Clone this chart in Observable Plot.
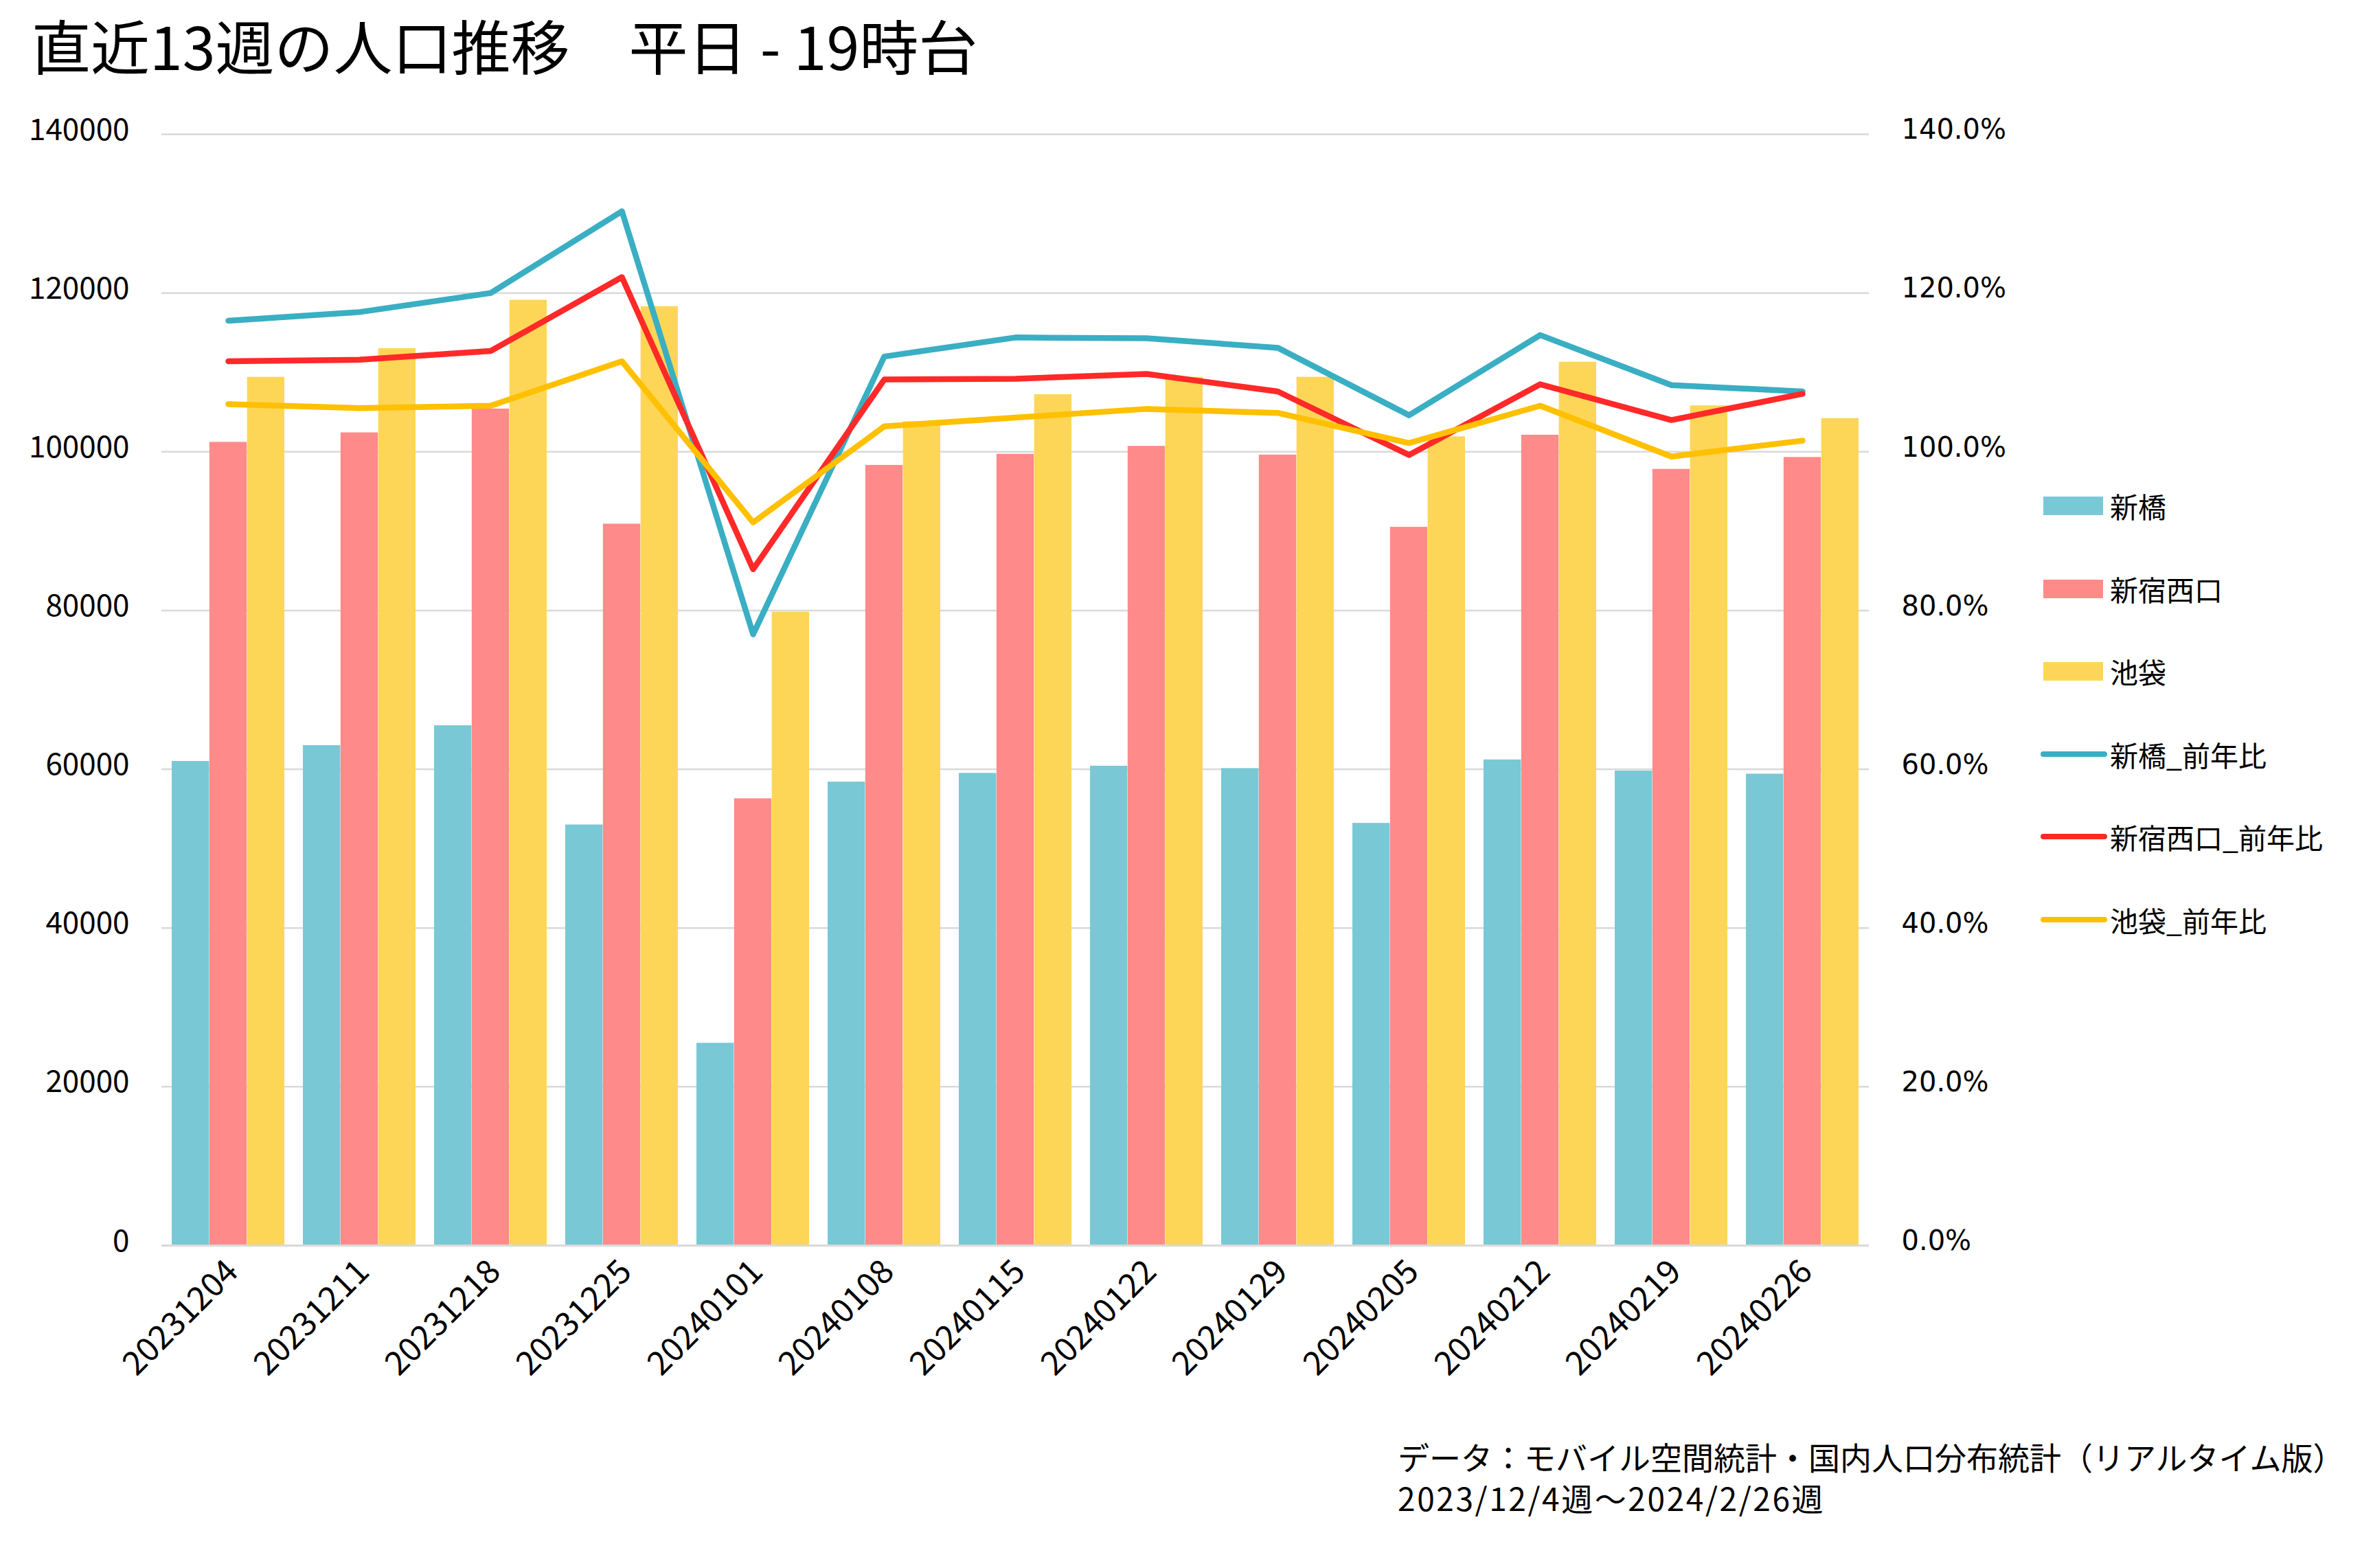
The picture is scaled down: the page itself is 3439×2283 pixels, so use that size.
<!DOCTYPE html>
<html><head><meta charset="utf-8">
<script src="https://cdn.jsdelivr.net/npm/d3@7"></script>
<script src="https://cdn.jsdelivr.net/npm/@observablehq/plot@0.6"></script>
<style>
html,body{margin:0;padding:0;background:#fff;}
#page{position:relative;width:3439px;height:2283px;overflow:hidden;font-family:"Noto Sans CJK JP",sans-serif;color:#000;background:#fff;}
#title{position:absolute;left:46px;top:13px;font-size:86px;line-height:1.2;white-space:pre;}
#chart{position:absolute;left:0;top:120px;}
.leg{position:absolute;left:2971px;height:60px;display:flex;align-items:center;font-size:41px;white-space:pre;}
.sw-bar{position:absolute;left:4px;width:87px;height:27px;}
.sw-line{position:absolute;left:0;width:97px;height:8px;border-radius:4px;}
.leg span.t{position:absolute;left:101px;}
.cap{position:absolute;left:2035px;font-size:46px;line-height:60px;white-space:pre;}
</style>
</head>
<body>
<div id="page">
  <div id="title"></div>
  <div id="chart"></div>
  <div id="legend"></div>
  <div id="cap1" class="cap" style="top:2090px"></div>
  <div id="cap2" class="cap" style="top:2150px;letter-spacing:2.6px"></div>
</div>
<script>
const titleText = "直近13週の人口推移　平日 - 19時台";
const captionLines = ["データ：モバイル空間統計・国内人口分布統計（リアルタイム版）", "2023/12/4週～2024/2/26週"];

const weeks = ["20231204","20231211","20231218","20231225","20240101","20240108","20240115","20240122","20240129","20240205","20240212","20240219","20240226"];
const shinbashi = [61000,63000,65500,53000,25500,58400,59500,60400,60100,53200,61200,59800,59400];
const shinjukuNishiguchi = [101200,102400,105400,90900,56300,98300,99700,100700,99600,90500,102100,97800,99300];
const ikebukuro = [109400,113000,119100,118300,79800,103800,107200,109400,109400,101900,111300,105800,104200];
const shinbashiYoY = [116.5,117.6,120.0,130.3,77.0,112.0,114.4,114.3,113.1,104.6,114.7,108.4,107.6];
const shinjukuNishiguchiYoY = [111.4,111.6,112.7,122.0,85.2,109.1,109.2,109.8,107.6,99.6,108.5,104.0,107.3];
const ikebukuroYoY = [106.0,105.5,105.8,111.4,91.1,103.2,104.3,105.4,104.9,101.1,105.8,99.4,101.4];

const barNames = ["新橋","新宿西口","池袋"];
const lineNames = ["新橋_前年比","新宿西口_前年比","池袋_前年比"];
const barColors = ["#79C8D6","#FF8A8A","#FED657"];
const lineColors = ["#3AAEC3","#FF2929","#FFC000"];
const leftTicks = [0,20000,40000,60000,80000,100000,120000,140000];
const rightTickLabels = ["0.0%","20.0%","40.0%","60.0%","80.0%","100.0%","120.0%","140.0%"];

const barSeries = [shinbashi, shinjukuNishiguchi, ikebukuro];
const lineSeries = [shinbashiYoY, shinjukuNishiguchiYoY, ikebukuroYoY];

const rows = weeks.map((w, i) => ({week: w, b0: barSeries[0][i], b1: barSeries[1][i], b2: barSeries[2][i], l0: lineSeries[0][i], l1: lineSeries[1][i], l2: lineSeries[2][i]}));

document.getElementById("title").textContent = titleText;
document.getElementById("cap1").textContent = captionLines[0];
document.getElementById("cap2").textContent = captionLines[1];

const W = 3439, H = 1920, mL = 235, mR = 718, mT = 75, mB = 227;
const padIn = 0.14, padOut = 0.07;
const step = (W - mL - mR) / (weeks.length - padIn + 2 * padOut);
const bw = step * (1 - padIn) / 3;

const fontJP = "Noto Sans CJK JP";

const chart = Plot.plot({
  width: W, height: H,
  marginLeft: mL, marginRight: mR, marginTop: mT, marginBottom: mB,
  style: {fontFamily: fontJP, color: "#000", background: "#fff", overflow: "visible"},
  x: {type: "band", domain: weeks, paddingInner: padIn, paddingOuter: padOut, align: 0.5},
  y: {domain: [0, 140000]},
  marks: [
    Plot.gridY(leftTicks, {stroke: "#d9d9d9", strokeOpacity: 1, strokeWidth: 2.5}),
    ...[0, 1, 2].map(j => Plot.barY(rows, {x: "week", y: "b" + j, fill: barColors[j], insetLeft: j * bw, insetRight: (2 - j) * bw})),
    Plot.ruleY([0], {stroke: "#d9d9d9", strokeWidth: 3}),
    ...[0, 1, 2].map(j => Plot.lineY(rows, {x: "week", y: d => d["l" + j] * 1000, stroke: lineColors[j], strokeWidth: 8.5, strokeLinecap: "round", strokeLinejoin: "round"})),
    Plot.axisY(leftTicks, {anchor: "left", tickSize: 0, tickPadding: 47, fontSize: 44, fontFamily: fontJP, tickFormat: d => String(d), label: null, dy: -6}),
    Plot.axisY(leftTicks, {anchor: "right", tickSize: 0, tickPadding: 47, textAnchor: "start", fontSize: 40, fontFamily: "DejaVu Sans", tickFormat: d => rightTickLabels[leftTicks.indexOf(d)], label: null, dy: -6}),
    Plot.axisX({anchor: "bottom", tickRotate: -45, tickSize: 0, tickPadding: 30, fontSize: 48, fontFamily: fontJP, label: null, dx: 6})
  ]
});
document.getElementById("chart").appendChild(chart);

const legend = document.getElementById("legend");
const legTop = 736;
const legStep = 120.6;
const items = barNames.map((n, j) => ({name: n, color: barColors[j], kind: "bar"}))
  .concat(lineNames.map((n, j) => ({name: n, color: lineColors[j], kind: "line"})));
items.forEach((it, k) => {
  const div = document.createElement("div");
  div.className = "leg";
  div.style.top = (legTop + k * legStep - 30) + "px";
  const sw = document.createElement("div");
  sw.className = it.kind === "bar" ? "sw-bar" : "sw-line";
  sw.style.background = it.color;
  sw.style.top = it.kind === "bar" ? "17px" : "26px";
  const t = document.createElement("span");
  t.className = "t";
  t.textContent = it.name;
  div.appendChild(sw);
  div.appendChild(t);
  legend.appendChild(div);
});
</script>
</body></html>
